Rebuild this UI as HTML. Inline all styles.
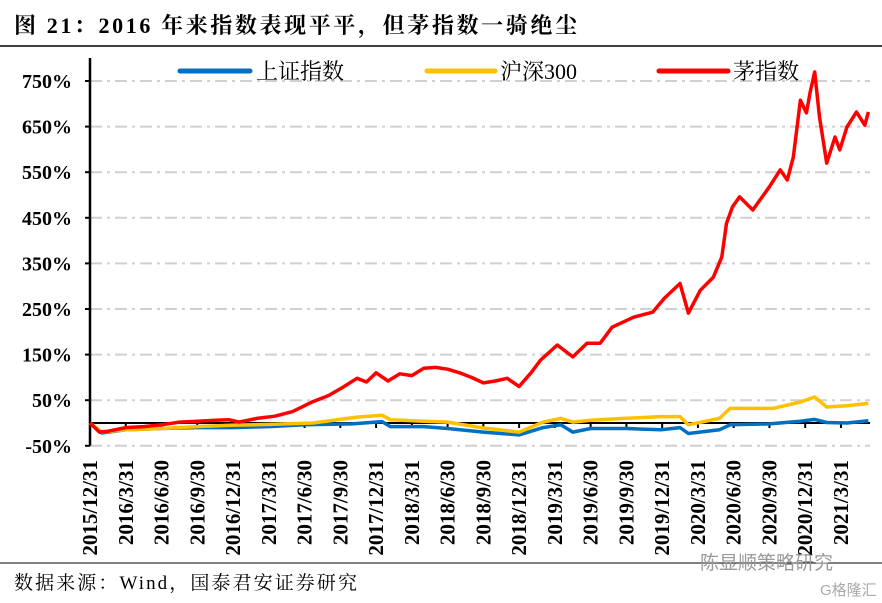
<!DOCTYPE html>
<html><head><meta charset="utf-8">
<style>
body{margin:0;background:#fff;}
svg{display:block;font-family:"Liberation Serif","Noto Serif CJK SC",serif;}
</style></head>
<body>
<svg id="chart" width="882" height="603" viewBox="0 0 882 603">
<text x="14" y="33" font-size="22" font-weight="bold" fill="#000" textLength="563" lengthAdjust="spacing">图 21：2016 年来指数表现平平，但茅指数一骑绝尘</text>
<line x1="0" y1="46" x2="882" y2="46" stroke="#000" stroke-width="1.5"/>
<line x1="0" y1="563" x2="882" y2="563" stroke="#000" stroke-width="1"/>
<text x="14" y="589" font-size="19" fill="#000" textLength="343" lengthAdjust="spacing">数据来源：Wind，国泰君安证券研究</text>
<text x="700" y="569" font-size="19" fill="#999" font-family="Liberation Sans, Noto Sans CJK SC, sans-serif">陈显顺策略研究</text>
<text x="820" y="595" font-size="15" fill="#aaa" font-family="Liberation Sans, Noto Sans CJK SC, sans-serif">G格隆汇</text>
<g id="grid"></g>
<g id="axes"></g>
<g id="series"></g>
<g id="legend">
  <line x1="180" y1="71" x2="250" y2="71" stroke="#0070C0" stroke-width="5" stroke-linecap="round"/>
  <text x="256" y="79" font-size="22">上证指数</text>
  <line x1="427" y1="71" x2="495" y2="71" stroke="#FFC000" stroke-width="5" stroke-linecap="round"/>
  <text x="500" y="79" font-size="22">沪深300</text>
  <line x1="659" y1="71" x2="728" y2="71" stroke="#FF0000" stroke-width="5" stroke-linecap="round"/>
  <text x="733" y="79" font-size="22">茅指数</text>
</g>
</svg>
<script>
const yTicks=[-50,50,150,250,350,450,550,650,750];
const xTickLabels=["2015/12/31","2016/3/31","2016/6/30","2016/9/30","2016/12/31","2017/3/31","2017/6/30","2017/9/30","2017/12/31","2018/3/31","2018/6/30","2018/9/30","2018/12/31","2019/3/31","2019/6/30","2019/9/30","2019/12/31","2020/3/31","2020/6/30","2020/9/30","2020/12/31","2021/3/31"];
// months since 2015/12/31
const maoMonths=[0,0.8,1.5,3,4.5,6,7.5,9,10.5,11.7,12.5,14,15.5,17,18.7,20,21.2,22.4,23.2,24,25,26,27,28,29,30,31,32,33,34,35,36,37,37.8,39.2,40.5,41.7,42.8,43.8,45.6,47.2,48.2,49.5,50.2,51.2,52.3,53,53.4,53.9,54.5,55.6,57,57.9,58.5,59,59.6,60.1,60.4,60.8,61.2,61.8,62.5,62.9,63.5,64.3,65,65.3];
const maoValues=[0,-20,-18,-10,-8,-4,2,4,6,7,2,10,15,25,47,60,78,98,90,110,92,108,104,120,122,118,110,100,88,92,98,80,110,138,171,145,175,175,210,232,243,274,306,241,291,320,364,438,474,496,467,518,555,533,583,708,680,724,770,671,570,627,599,649,682,653,682];
const csiMonths=[0,1,3,6,9,11.7,15,18.7,22.4,24.5,25.2,28,30,33,36,38,39.5,40.5,42,44.8,47.9,49.5,50.2,52.8,53.7,57.3,59.6,60.8,61.8,63.5,65.3];
const csiValues=[0,-20,-15,-12,-8,-5,-3,0,13,17,7,4,2,-11,-20,2,10,2,6,10,14,14,-4,10,32,32,46,57,35,38,43];
const sseMonths=[0,1,3,6,9,12,15,18,22,24.5,25.2,28,30,33,36,38,39.5,40.5,42,45,47.9,49.5,50.2,52.8,53.7,57,59.6,60.8,61.8,63.5,65.3];
const sseValues=[0,-22,-15,-12,-10,-10,-8,-4,-2,3,-8,-8,-12,-20,-26,-10,-4,-20,-12,-12,-15,-10,-23,-15,-4,-2,4,8,1,0,5];

const X0=90, MPX=11.92, Y0=423, YPX=45.6/100;
const xs=m=>X0+m*MPX;
const ys=v=>Y0-v*YPX;
const NS="http://www.w3.org/2000/svg";
function mk(tag,attrs,parent){const e=document.createElementNS(NS,tag);for(const k in attrs)e.setAttribute(k,attrs[k]);parent.appendChild(e);return e;}
const grid=document.getElementById('grid'),axes=document.getElementById('axes'),series=document.getElementById('series');
yTicks.forEach(v=>{
  const gl=mk('line',{x1:X0,x2:870,y1:ys(v),y2:ys(v),stroke:'#d0d0d0','stroke-width':2,'stroke-dasharray':'12 5 3 5'},grid);
  
  
  const tk=mk('line',{x1:X0-5,x2:X0,y1:ys(v),y2:ys(v),stroke:'#000','stroke-width':2},axes);
  
  
  const t=mk('text',{x:X0-18,y:ys(v)+7,'text-anchor':'end','font-size':20,'font-weight':'bold'},axes);
  t.textContent=v+'%';
  
  
});
const ya=mk('line',{x1:X0,x2:X0,y1:58,y2:ys(-50),stroke:'#000','stroke-width':2.5},axes);


const xa=mk('line',{x1:X0,x2:870,y1:Y0,y2:Y0,stroke:'#000','stroke-width':2},axes);


xTickLabels.forEach((lab,i)=>{
  const x=xs(i*3);
  const tk=mk('line',{x1:x,x2:x,y1:Y0,y2:Y0+5,stroke:'#000','stroke-width':2},axes);
  
  
  const t=mk('text',{x:0,y:0,'text-anchor':'end','font-size':21,'font-weight':'bold',transform:`translate(${x+7},460) rotate(-90)`},axes);
  t.textContent=lab;
  
  
});
function line(ms,vs,color,name){
  const d=ms.map((m,i)=>(i?'L':'M')+xs(m).toFixed(1)+','+ys(vs[i]).toFixed(1)).join('');
  const p=mk('path',{d:d,fill:'none',stroke:color,'stroke-width':3.5,'stroke-linejoin':'round'},series);
  
  
}
line(sseMonths,sseValues,'#0070C0','series-sse');
line(csiMonths,csiValues,'#FFC000','series-csi300');
line(maoMonths,maoValues,'#FF0000','series-mao-index');
</script>
</body></html>
